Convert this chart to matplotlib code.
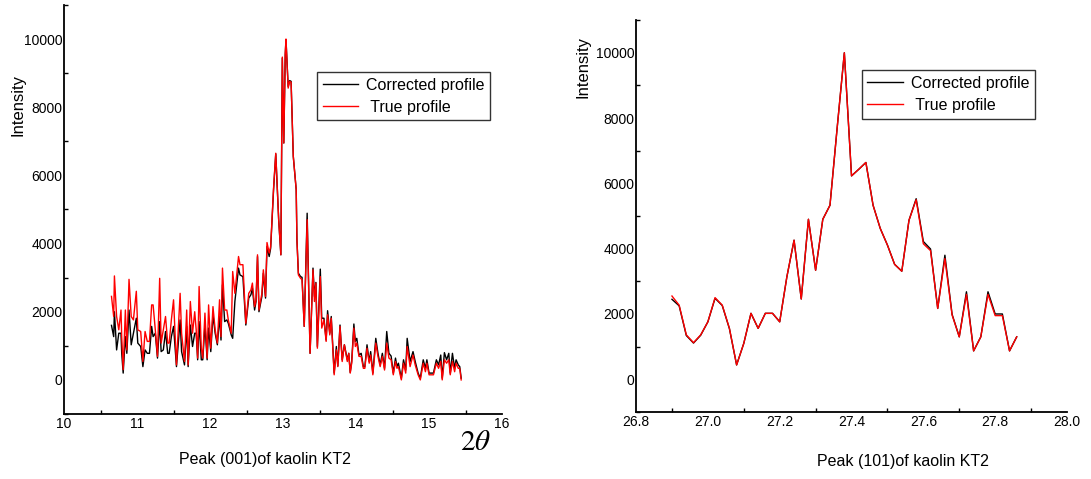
import numpy as np
import matplotlib.pyplot as plt
from matplotlib.ticker import MultipleLocator, FormatStrFormatter, NullFormatter

plt.rcParams['font.family'] = ['Liberation Sans', 'DejaVu Sans']
plt.rcParams['mathtext.fontset'] = 'stix'

# Peak (001) of kaolin KT2 - 2theta positions and intensities
two_theta_001 = [
    10.65, 10.68, 10.69, 10.72, 10.75, 10.78, 10.79, 10.81, 10.84, 10.86,
    10.89, 10.92, 10.95, 10.99, 11.01, 11.05, 11.08, 11.11, 11.14, 11.17,
    11.20, 11.22, 11.25, 11.28, 11.31, 11.33, 11.36, 11.39, 11.42, 11.44,
    11.47, 11.50, 11.54, 11.59, 11.61, 11.65, 11.68, 11.70, 11.73, 11.76,
    11.79, 11.81, 11.83, 11.85, 11.88, 11.90, 11.93, 11.96, 11.98, 12.01,
    12.04, 12.07, 12.10, 12.13, 12.15, 12.17, 12.20, 12.23, 12.25, 12.29,
    12.31, 12.34, 12.39, 12.41, 12.45, 12.49, 12.53, 12.56, 12.58, 12.61,
    12.63, 12.65, 12.67, 12.71, 12.73, 12.76, 12.78, 12.81, 12.83, 12.87,
    12.90, 12.94, 12.97, 12.99, 13.01, 13.03, 13.04, 13.07, 13.09, 13.11,
    13.14, 13.18, 13.19, 13.21, 13.24, 13.26, 13.29, 13.33, 13.37, 13.41,
    13.43, 13.45, 13.47, 13.51, 13.53, 13.56, 13.59, 13.61, 13.64, 13.66,
    13.70, 13.73, 13.75, 13.78, 13.81, 13.84, 13.88, 13.90, 13.92, 13.94,
    13.97, 13.99, 14.01, 14.04, 14.07, 14.10, 14.12, 14.15, 14.18, 14.20,
    14.23, 14.27, 14.30, 14.33, 14.36, 14.39, 14.42, 14.45, 14.48, 14.51,
    14.54, 14.56, 14.58, 14.62, 14.65, 14.68, 14.70, 14.74, 14.78, 14.81,
    14.85, 14.88, 14.92, 14.95, 14.97, 15.00, 15.06, 15.10, 15.13, 15.16,
    15.18, 15.21, 15.24, 15.27, 15.29, 15.32, 15.35, 15.37, 15.40, 15.42,
    15.44,
]
true_001 = [
    2450, 1860, 3050, 1860, 1470, 2050, 1270, 300, 2050, 880,
    2950, 1860, 1760, 2600, 1470, 1420, 540, 1420, 1130, 1130,
    2200, 2200, 1470, 690, 2980, 1080, 1470, 1860, 1080, 1080,
    1760, 2350, 440, 2540, 1370, 540, 2050, 440, 2300, 1370,
    2000, 1470, 640, 2740, 930, 640, 1960, 640, 2200, 930,
    2150, 1470, 1080, 2350, 1270, 3280, 2050, 2050, 1760, 1370,
    3180, 2540, 3620, 3380, 3380, 1660, 2540, 2640, 2840, 2150,
    2350, 3670, 2050, 2540, 3230, 2450, 4030, 3720, 3910, 5630,
    6650, 4700, 3670, 9470, 6950, 9590, 10000, 8560, 8760, 8730,
    6560, 5580, 4110, 3080, 2980, 2940, 1570, 4700, 780, 3230,
    2300, 2840, 930, 3030, 1520, 1760, 1130, 1910, 1320, 1810,
    150, 880, 390, 1570, 540, 1030, 540, 780, 200, 490,
    1520, 980, 1080, 690, 690, 340, 340, 930, 490, 730,
    150, 1080, 690, 390, 690, 290, 1080, 640, 590, 150,
    540, 340, 390, 0, 490, 200, 980, 390, 730, 440,
    150, 0, 490, 240, 490, 150, 150, 490, 340, 540,
    0, 590, 490, 590, 150, 540, 240, 490, 340, 340,
    0,
]
corrected_001 = [
    1600, 1270, 2000, 880, 1370, 1370, 780, 200, 1270, 780,
    2050, 1030, 1370, 1810, 1080, 980, 390, 880, 780, 780,
    1570, 1270, 1370, 640, 1710, 830, 880, 1420, 780, 780,
    1270, 1570, 390, 1760, 830, 440, 1570, 390, 1610, 980,
    1370, 1370, 590, 1710, 590, 590, 1610, 590, 1520, 830,
    1910, 1370, 1030, 1860, 1170, 2790, 1710, 1760, 1660, 1320,
    1220, 2300, 3280, 3080, 3030, 1610, 2400, 2500, 2690, 2050,
    2300, 3620, 2000, 2450, 3130, 2400, 3910, 3620, 3860, 5580,
    6630, 4700, 3670, 9440, 6950, 9540, 9980, 8610, 8780, 8760,
    6560, 5580, 4110, 3130, 3030, 3010, 1570, 4890, 780, 3280,
    2450, 2860, 980, 3250, 1810, 1810, 1170, 2030, 1370, 1860,
    200, 980, 410, 1610, 590, 1030, 590, 780, 220, 540,
    1640, 1130, 1220, 730, 780, 390, 390, 1030, 540, 830,
    200, 1220, 780, 440, 780, 340, 1420, 780, 700, 200,
    640, 390, 490, 50, 590, 290, 1220, 540, 830, 540,
    200, 50, 590, 340, 590, 200, 200, 590, 440, 730,
    50, 800, 590, 780, 200, 780, 340, 590, 440, 390,
    50,
]

# Peak (101) of kaolin KT2
two_theta_101 = np.round(np.arange(26.90, 27.861, 0.02), 2)
true_101 = [
    2550, 2270, 1360, 1120, 1360, 1760, 2500, 2270, 1560, 440,
    1100, 2020, 1560, 2020, 2020, 1760, 3140, 4260, 2460, 4900,
    3340, 4900, 5330, 7700, 10000, 6230, 6430, 6640, 5330, 4620,
    4110, 3520, 3310, 4870, 5500, 4150, 3940, 2170, 3700, 1970,
    1300, 2600, 870, 1300, 2600, 1950, 1950, 870, 1300,
]
corrected_101 = [
    2450, 2250, 1340, 1110, 1350, 1760, 2480, 2260, 1550, 440,
    1100, 2020, 1560, 2020, 2020, 1760, 3140, 4260, 2460, 4900,
    3340, 4900, 5330, 7700, 10000, 6230, 6430, 6640, 5330, 4620,
    4110, 3520, 3310, 4870, 5530, 4220, 3990, 2170, 3800, 1990,
    1300, 2680, 870, 1300, 2680, 2000, 2000, 870, 1300,
]

fig = plt.figure(figsize=(10.91, 4.79), dpi=100)
ax1 = fig.add_axes([0.0587, 0.1357, 0.4015, 0.854])
ax2 = fig.add_axes([0.583, 0.140, 0.395, 0.818])


def style_axes(ax, xmin, xmax, xmajor, xminor, xfmt):
    for side in ('top', 'right'):
        ax.spines[side].set_visible(False)
    for side in ('left', 'bottom'):
        ax.spines[side].set_linewidth(1.3)
    ax.set_xlim(xmin, xmax)
    ax.set_ylim(-1000, 11000)
    ax.xaxis.set_major_locator(MultipleLocator(xmajor))
    ax.xaxis.set_minor_locator(MultipleLocator(xminor))
    ax.xaxis.set_major_formatter(FormatStrFormatter(xfmt))
    ax.yaxis.set_major_locator(MultipleLocator(2000))
    ax.yaxis.set_minor_locator(MultipleLocator(1000))
    ax.yaxis.set_minor_formatter(NullFormatter())
    ax.tick_params(which='major', length=0, labelsize=10, pad=1)
    ax.tick_params(which='minor', direction='in', length=3, width=1)
    ax.tick_params(axis='x', which='major', pad=2)


ax1.plot(two_theta_001, corrected_001, color='black', lw=1.0, label='Corrected profile')
ax1.plot(two_theta_001, true_001, color='red', lw=1.0, label=' True profile')
style_axes(ax1, 10, 16, 1, 0.5, '%d')

ax2.plot(two_theta_101, corrected_101, color='black', lw=1.0, label='Corrected profile')
ax2.plot(two_theta_101, true_101, color='red', lw=1.0, label=' True profile')
style_axes(ax2, 26.8, 28.0, 0.2, 0.1, '%.1f')

for ax, anchor in ((ax1, (0.578, 0.836)), (ax2, (0.524, 0.872))):
    leg = ax.legend(loc='upper left', bbox_to_anchor=anchor, borderaxespad=0,
                    fontsize=11.5, frameon=True, fancybox=False, handlelength=2.2,
                    borderpad=0.35, labelspacing=0.45, handletextpad=0.5)
    leg.get_frame().set_edgecolor('black')
    leg.get_frame().set_linewidth(1.0)

fig.text(0.0165, 0.78, 'Intensity', rotation=90, ha='center', va='center', fontsize=12)
fig.text(0.534, 0.86, 'Intensity', rotation=90, ha='center', va='center', fontsize=12)
fig.text(0.243, 0.04, 'Peak (001)of kaolin KT2', ha='center', va='center', fontsize=11.5)
fig.text(0.828, 0.036, 'Peak (101)of kaolin KT2', ha='center', va='center', fontsize=11.5)
fig.text(0.436, 0.077, r'$2\theta$', ha='center', va='center', fontsize=21)

fig.savefig('out.png', dpi=100)
